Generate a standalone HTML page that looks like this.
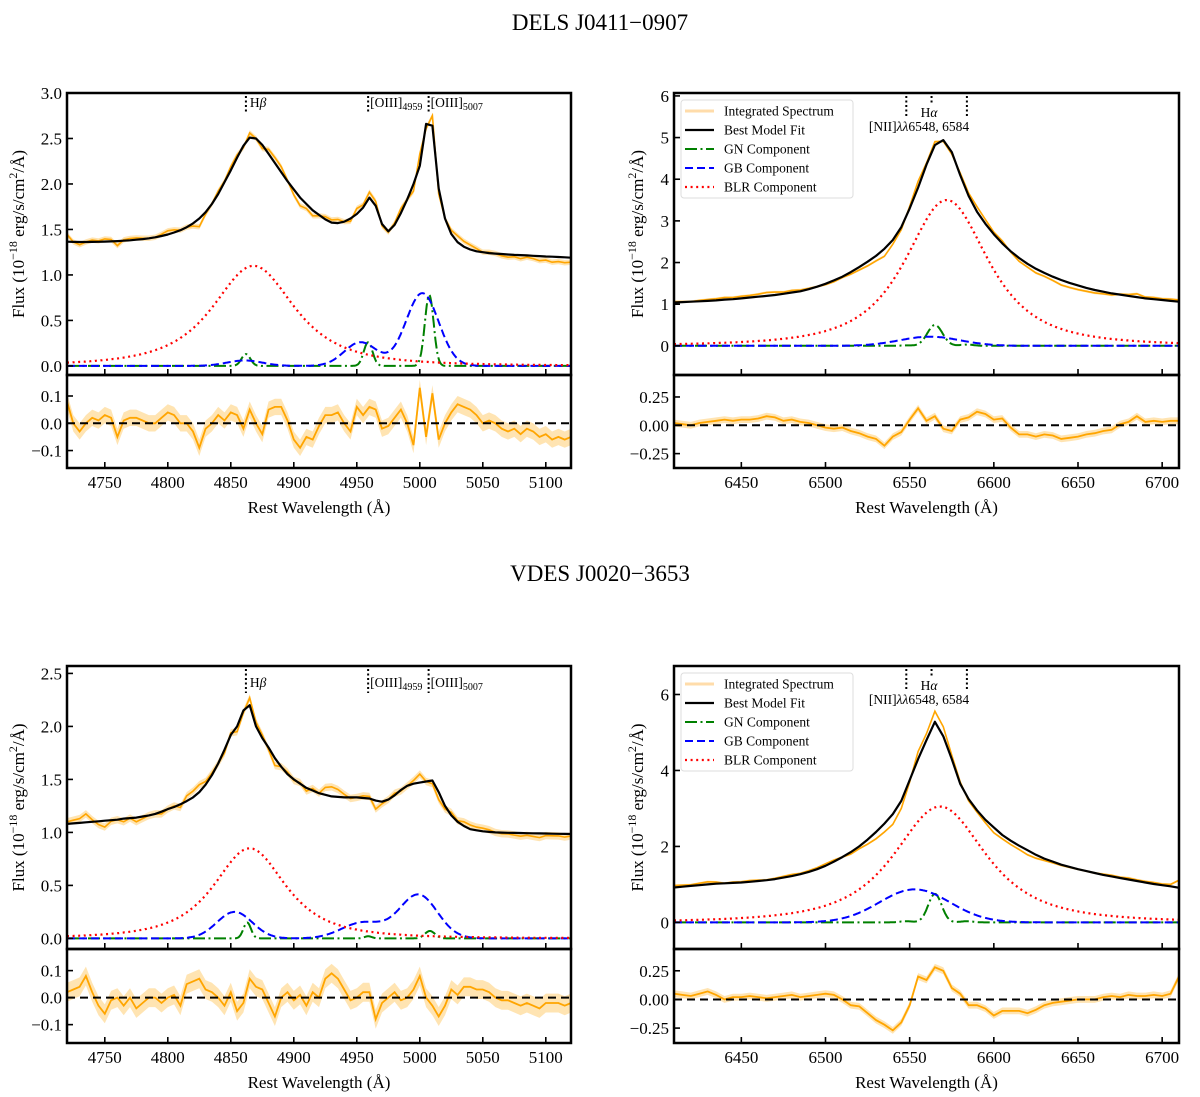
<!DOCTYPE html>
<html><head><meta charset="utf-8"><style>
html,body{margin:0;padding:0;background:#fff;}
svg{display:block;font-family:"Liberation Serif","DejaVu Serif",serif;}
</style></head><body>
<svg id="fig" width="1200" height="1097" viewBox="0 0 1200 1097" xmlns="http://www.w3.org/2000/svg">
<text x="600" y="30" font-size="23" text-anchor="middle">DELS J0411−0907</text>
<text x="600" y="581" font-size="23" text-anchor="middle">VDES J0020−3653</text>
</svg>
<script>
// ---------- DATA ----------
const tlModel = [1.365,1.363,1.362,1.362,1.363,1.364,1.366,1.369,1.372,1.376,
1.381,1.387,1.394,1.403,1.414,1.428,1.445,1.466,1.492,1.525,
1.567,1.62,1.69,1.78,1.89,2.02,2.15,2.29,2.42,2.51,
2.50,2.43,2.33,2.23,2.13,2.03,1.94,1.85,1.78,1.71,
1.66,1.61,1.575,1.57,1.585,1.62,1.67,1.74,1.85,1.76,
1.56,1.48,1.55,1.68,1.83,2.00,2.20,2.66,2.64,1.95,
1.62,1.45,1.36,1.31,1.28,1.26,1.25,1.24,1.235,1.23,
1.225,1.22,1.218,1.215,1.21,1.207,1.203,1.2,1.197,1.194,1.19];
const tlResid = [0.08,0.0,-0.03,0.0,0.02,0.01,0.03,0.02,-0.05,0.01,
0.02,0.02,0.01,0.0,0.0,0.02,0.04,0.03,0.0,0.0,
-0.03,-0.09,-0.02,0.0,0.03,0.01,0.04,0.03,-0.02,0.05,
0.0,-0.04,0.05,0.06,0.06,0.01,-0.06,-0.09,-0.05,-0.06,
-0.01,0.03,0.03,0.04,0.0,-0.03,0.06,0.03,0.06,0.05,
-0.02,-0.01,0.02,0.05,0.0,-0.08,0.13,-0.05,0.11,-0.06,
0.0,0.04,0.07,0.06,0.05,0.03,0.0,0.01,0.0,-0.02,
-0.03,-0.02,-0.04,-0.02,-0.03,-0.05,-0.04,-0.06,-0.05,-0.06,-0.05];
const tlBLR = [1.1, 4868, 50];
const tlGB = [[0.06,4861,14],[0.26,4953,13],[0.8,5002,13]];
const tlGN = [[0.13,4862,3.5],[0.26,4959,3.5],[0.78,5007.5,3.5]];

const trModel = [1.04,1.05,1.06,1.07,1.08,1.09,1.11,1.12,1.14,1.16,
1.18,1.2,1.22,1.25,1.28,1.31,1.36,1.42,1.49,1.57,
1.66,1.77,1.89,2.02,2.16,2.33,2.54,2.85,3.3,3.8,
4.35,4.82,4.94,4.65,4.1,3.6,3.22,2.93,2.68,2.46,
2.27,2.11,1.97,1.85,1.75,1.66,1.58,1.51,1.45,1.39,
1.34,1.3,1.26,1.23,1.2,1.17,1.14,1.12,1.1,1.08,1.06];
const trResid = [0.02,0.01,0.0,0.02,0.03,0.04,0.05,0.04,0.05,0.05,
0.06,0.08,0.07,0.04,0.05,0.03,0.02,0.0,-0.02,-0.03,
-0.02,-0.05,-0.07,-0.1,-0.12,-0.18,-0.1,-0.06,0.05,0.15,
0.04,0.08,-0.03,-0.05,0.05,0.07,0.12,0.1,0.05,0.06,
-0.02,-0.08,-0.08,-0.1,-0.08,-0.09,-0.12,-0.11,-0.1,-0.08,
-0.07,-0.05,-0.04,0.01,0.03,0.08,0.03,0.04,0.03,0.04,0.04];
const trBLR = [3.5, 6572, 38];
const trGB = [[0.22,6562,18]];
const trGN = [[0.01,6548,4],[0.5,6565,4.5],[0.03,6584,4]];

const blModel = [1.08,1.085,1.09,1.095,1.1,1.105,1.11,1.115,1.12,1.13,
1.135,1.14,1.15,1.16,1.175,1.195,1.22,1.24,1.265,1.295,
1.33,1.38,1.45,1.54,1.65,1.78,1.92,2.0,2.15,2.2,
2.0,1.89,1.8,1.7,1.62,1.55,1.5,1.46,1.42,1.395,
1.37,1.355,1.34,1.335,1.33,1.33,1.33,1.325,1.32,1.30,
1.29,1.31,1.35,1.4,1.44,1.46,1.47,1.48,1.49,1.38,
1.25,1.16,1.1,1.06,1.03,1.02,1.01,1.005,1.0,0.998,
0.996,0.995,0.994,0.993,0.992,0.991,0.99,0.988,0.987,0.986,0.985];
const blResid = [0.02,0.03,0.04,0.08,0.02,-0.03,-0.06,-0.01,0.0,-0.03,
0.0,-0.04,-0.02,0.0,0.0,-0.02,0.0,0.01,-0.03,0.05,
0.06,0.07,0.03,0.02,0.0,-0.03,0.02,-0.05,-0.02,0.07,
0.04,0.03,-0.02,-0.07,0.0,0.02,-0.01,0.01,-0.03,0.02,
0.0,0.07,0.09,0.07,0.03,-0.01,0.0,0.02,0.02,-0.08,
-0.02,0.0,0.02,-0.01,0.0,0.03,0.08,0.0,-0.03,-0.07,
-0.03,0.03,0.01,0.04,0.04,0.03,0.03,0.02,0.0,-0.01,
-0.01,-0.02,-0.03,-0.02,-0.03,-0.04,-0.02,-0.02,-0.02,-0.03,-0.02];
const blBLR = [0.85, 4865, 44];
const blGB = [[0.25,4853,14],[0.15,4955,17],[0.41,4999,15]];
const blGN = [[0.15,4863,3],[0.02,4959,3],[0.07,5008,4]];

const brModel = [0.92,0.94,0.96,0.98,1.0,1.02,1.03,1.04,1.05,1.07,
1.09,1.11,1.14,1.18,1.22,1.27,1.33,1.4,1.49,1.6,
1.72,1.85,2.0,2.18,2.38,2.6,2.85,3.2,3.75,4.3,
4.8,5.28,4.9,4.3,3.65,3.25,2.95,2.7,2.5,2.3,
2.15,2.02,1.9,1.78,1.68,1.6,1.52,1.46,1.4,1.35,
1.3,1.25,1.21,1.17,1.13,1.09,1.05,1.01,0.98,0.95,0.91];
const brResid = [0.05,0.04,0.03,0.05,0.07,0.04,0.0,0.02,0.02,0.03,
0.02,0.01,0.02,0.03,0.04,0.02,0.03,0.04,0.05,0.04,
0.0,-0.05,-0.06,-0.12,-0.18,-0.22,-0.27,-0.2,-0.05,0.2,
0.17,0.28,0.25,0.1,0.05,-0.05,-0.05,-0.08,-0.14,-0.1,
-0.1,-0.1,-0.12,-0.09,-0.05,-0.03,-0.02,-0.01,0.0,0.0,
0.0,0.02,0.03,0.02,0.04,0.03,0.03,0.04,0.03,0.05,0.2];
const brBLR = [3.05, 6568, 42];
const brGB = [[0.87,6553,21]];
const brGN = [[0.03,6548,4],[0.75,6565,4],[0.03,6584,4]];

const hbTicks = [4750,4800,4850,4900,4950,5000,5050,5100];
const haTicks = [6450,6500,6550,6600,6650,6700];
const legendLabels = ["Integrated Spectrum","Best Model Fit","GN Component","GB Component","BLR Component"];

// ---------- DRAWING ----------
const NS = "http://www.w3.org/2000/svg";
const svg = document.getElementById("fig");
function mk(tag, attrs, parent){
  const e = document.createElementNS(NS, tag);
  for (const k in attrs) e.setAttribute(k, attrs[k]);
  (parent||svg).appendChild(e);
  return e;
}
let clipId = 0;

function panel(c){
  const g = mk("g", {});
  
  
  const sx = l => c.x0 + (l - c.xmin) / (c.xmax - c.xmin) * (c.x1 - c.x0);
  const sy = v => c.yDiv - (v - c.ymin) / (c.ymax - c.ymin) * (c.yDiv - c.yTop);
  const sr = v => c.yBot - (v - c.rmin) / (c.rmax - c.rmin) * (c.yBot - c.yDiv);
  const lam = i => c.start + i * c.step;
  const defs = mk("defs", {}, g);
  const cm = "c" + (clipId++), cr = "c" + (clipId++);
  const p1 = mk("clipPath", {id: cm}, defs);
  mk("rect", {x: c.x0, y: c.yTop, width: c.x1 - c.x0, height: c.yDiv - c.yTop}, p1);
  const p2 = mk("clipPath", {id: cr}, defs);
  mk("rect", {x: c.x0, y: c.yDiv, width: c.x1 - c.x0, height: c.yBot - c.yDiv}, p2);
  const gm = mk("g", {"clip-path": "url(#" + cm + ")"}, g);
  const gr = mk("g", {"clip-path": "url(#" + cr + ")"}, g);

  const data = c.model.map((m, i) => m + c.resid[i]);
  let up = "", dn = "";
  data.forEach((d, i) => { up += (i ? "L" : "M") + sx(lam(i)).toFixed(1) + "," + sy(d + c.err).toFixed(1); });
  for (let i = data.length - 1; i >= 0; i--) dn += "L" + sx(lam(i)).toFixed(1) + "," + sy(data[i] - c.err).toFixed(1);
  const band = mk("path", {d: up + dn + "Z", fill: "#ffa500", "fill-opacity": "0.3", stroke: "none"}, gm);
  
  
  let dp = "";
  data.forEach((d, i) => { dp += (i ? "L" : "M") + sx(lam(i)).toFixed(1) + "," + sy(d).toFixed(1); });
  const spec = mk("path", {d: dp, fill: "none", stroke: "#ffa500", "stroke-width": 1.6}, gm);
  
  
  const comp = (fn) => { let p = ""; for (let l = c.xmin; l <= c.xmax + 0.01; l += 0.5) p += (l === c.xmin ? "M" : "L") + sx(l).toFixed(1) + "," + sy(fn(l)).toFixed(1); return p; };
  const gauss = arr => l => arr.reduce((s, q) => s + q[0] * Math.exp(-0.5 * Math.pow((l - q[1]) / q[2], 2)), 0);
  const gnp = mk("path", {d: comp(gauss(c.gn)), fill: "none", stroke: "#008000", "stroke-width": 2, "stroke-dasharray": "12 3.5 2 3.5"}, gm);
  
  
  const gbp = mk("path", {d: comp(gauss(c.gb)), fill: "none", stroke: "#0000ff", "stroke-width": 2, "stroke-dasharray": "8 4"}, gm);
  
  
  const blrf = l => c.blr[0] / Math.pow(1 + Math.pow((l - c.blr[1]) / c.blr[2], 2), 1.5);
  const blp = mk("path", {d: comp(blrf), fill: "none", stroke: "#ff0000", "stroke-width": 2.2, "stroke-dasharray": "2 3.6"}, gm);
  
  
  let mp = "";
  c.model.forEach((m, i) => { mp += (i ? "L" : "M") + sx(lam(i)).toFixed(1) + "," + sy(m).toFixed(1); });
  const mod = mk("path", {d: mp, fill: "none", stroke: "#000", "stroke-width": 2.2, "stroke-linejoin": "round"}, gm);
  
  

  up = ""; dn = "";
  c.resid.forEach((r, i) => { up += (i ? "L" : "M") + sx(lam(i)).toFixed(1) + "," + sr(r + c.err).toFixed(1); });
  for (let i = c.resid.length - 1; i >= 0; i--) dn += "L" + sx(lam(i)).toFixed(1) + "," + sr(c.resid[i] - c.err).toFixed(1);
  const rb = mk("path", {d: up + dn + "Z", fill: "#ffa500", "fill-opacity": "0.3"}, gr);
  
  
  let rp = "";
  c.resid.forEach((r, i) => { rp += (i ? "L" : "M") + sx(lam(i)).toFixed(1) + "," + sr(r).toFixed(1); });
  const rl = mk("path", {d: rp, fill: "none", stroke: "#ffa500", "stroke-width": 1.8}, gr);
  
  
  const zl = mk("line", {x1: c.x0, x2: c.x1, y1: sr(0), y2: sr(0), stroke: "#000", "stroke-width": 2, "stroke-dasharray": "8 5"}, gr);
  
  

  const f1 = mk("rect", {x: c.x0, y: c.yTop, width: c.x1 - c.x0, height: c.yDiv - c.yTop, fill: "none", stroke: "#000", "stroke-width": 2.5}, g);
  
  
  const f2 = mk("rect", {x: c.x0, y: c.yDiv, width: c.x1 - c.x0, height: c.yBot - c.yDiv, fill: "none", stroke: "#000", "stroke-width": 2.5}, g);
  
  

  c.xticks.forEach(t => {
    const x = sx(t);
    mk("line", {x1: x, x2: x, y1: c.yDiv, y2: c.yDiv - 6, stroke: "#000", "stroke-width": 1.6}, g);
    mk("line", {x1: x, x2: x, y1: c.yBot, y2: c.yBot - 6, stroke: "#000", "stroke-width": 1.6}, g);
    const tl = mk("text", {x: x, y: c.yBot + 20, "font-size": 17, "text-anchor": "middle"}, g);
    tl.textContent = t;
    
    
  });
  c.yticks.forEach((t, i) => {
    const y = sy(t);
    mk("line", {x1: c.x0, x2: c.x0 + 6, y1: y, y2: y, stroke: "#000", "stroke-width": 1.6}, g);
    const tl = mk("text", {x: c.x0 - 5, y: y + 6, "font-size": 17, "text-anchor": "end"}, g);
    tl.textContent = c.ylabels[i];
    
    
  });
  c.rticks.forEach((t, i) => {
    const y = sr(t);
    mk("line", {x1: c.x0, x2: c.x0 + 6, y1: y, y2: y, stroke: "#000", "stroke-width": 1.6}, g);
    const tl = mk("text", {x: c.x0 - 5, y: y + 6, "font-size": 17, "text-anchor": "end"}, g);
    tl.textContent = c.rlabels[i];
    
    
  });
  const xl = mk("text", {x: (c.x0 + c.x1) / 2, y: c.yBot + 45, "font-size": 17, "text-anchor": "middle"}, g);
  xl.textContent = "Rest Wavelength (Å)";
  
  
  const yc = (c.yTop + c.yDiv) / 2;
  const yl = mk("text", {x: 0, y: 0, "font-size": 17, "text-anchor": "middle", transform: "translate(" + c.ylx + "," + yc + ") rotate(-90)"}, g);
  yl.innerHTML = 'Flux (10<tspan font-size="12" dy="-7">−18</tspan><tspan dy="7"> erg/s/cm</tspan><tspan font-size="12" dy="-7">2</tspan><tspan dy="7">/Å)</tspan>';
  
  

  c.markers.forEach(m => {
    const x = sx(m[0]);
    const ml = mk("line", {x1: x, x2: x, y1: c.yTop + 3, y2: c.yTop + m[1], stroke: "#000", "stroke-width": 2, "stroke-dasharray": "2 2.5"}, g);
    
    
  });
  c.labels.forEach(L => {
    const t = mk("text", {x: L[0], y: c.yTop + L[1], "font-size": 13.5, "text-anchor": L[3]}, g);
    t.innerHTML = L[2];
    
    
  });

  if (c.legend) {
    const lg = mk("g", {}, g);
    
    
    mk("rect", {x: c.x0 + 7, y: c.yTop + 7, width: 172, height: 98, rx: 3, fill: "#fff", "fill-opacity": 0.85, stroke: "#ddd", "stroke-width": 1}, lg);
    const styles = [
      {stroke: "#ffdcaa", "stroke-width": 3},
      {stroke: "#000", "stroke-width": 2.2},
      {stroke: "#008000", "stroke-width": 2, "stroke-dasharray": "12 3.5 2 3.5"},
      {stroke: "#0000ff", "stroke-width": 2, "stroke-dasharray": "8 4"},
      {stroke: "#ff0000", "stroke-width": 2.2, "stroke-dasharray": "2 3.6"}];
    legendLabels.forEach((lab, i) => {
      const y = c.yTop + 18 + i * 19;
      const ent = mk("g", {}, lg);
      
      
      const a = Object.assign({x1: c.x0 + 11, x2: c.x0 + 40, y1: y, y2: y}, styles[i]);
      mk("line", a, ent);
      const t = mk("text", {x: c.x0 + 50, y: y + 4.5, "font-size": 13.5}, ent);
      t.textContent = lab;
    });
  }
}

const sub = s => '<tspan font-size="10" dy="3">' + s + '</tspan><tspan dy="-3"></tspan>';
const hbLabels = (x0, xmin, k) => [
  [x0 + (4862 - xmin) * k + 4, 14, 'H<tspan font-style="italic">β</tspan>', "start"],
  [x0 + (4959 - xmin) * k + 2, 14, '[OIII]' + sub('4959'), "start"],
  [x0 + (5007 - xmin) * k + 2, 14, '[OIII]' + sub('5007'), "start"]];
const haLabels = [
  [929, 24, 'H<tspan font-style="italic">α</tspan>', "middle"],
  [919, 38, '[NII]<tspan font-style="italic">λλ</tspan>6548, 6584', "middle"]];

panel({name: "panel-hbeta-dels", x0: 67, x1: 571, yTop: 93, yDiv: 375, yBot: 468, xmin: 4720, xmax: 5120,
  ymin: -0.1, ymax: 3.0, rmin: -0.164, rmax: 0.177, start: 4720, step: 5,
  model: tlModel, resid: tlResid, err: 0.03, blr: tlBLR, gb: tlGB, gn: tlGN,
  xticks: hbTicks, yticks: [0, 0.5, 1, 1.5, 2, 2.5, 3], ylabels: ["0.0","0.5","1.0","1.5","2.0","2.5","3.0"],
  rticks: [-0.1, 0, 0.1], rlabels: ["−0.1","0.0","0.1"], ylx: 24,
  markers: [[4862, 19], [4959, 19], [5007, 19]], labels: hbLabels(67, 4720, 1.26), legend: false});
panel({name: "panel-halpha-dels", x0: 674, x1: 1179, yTop: 93, yDiv: 375, yBot: 468, xmin: 6410, xmax: 6710,
  ymin: -0.7, ymax: 6.07, rmin: -0.377, rmax: 0.444, start: 6410, step: 5,
  model: trModel, resid: trResid, err: 0.03, blr: trBLR, gb: trGB, gn: trGN,
  xticks: haTicks, yticks: [0,1,2,3,4,5,6], ylabels: ["0","1","2","3","4","5","6"],
  rticks: [-0.25, 0, 0.25], rlabels: ["−0.25","0.00","0.25"], ylx: 643,
  markers: [[6548, 24], [6563, 12], [6584, 24]], labels: haLabels, legend: true});
panel({name: "panel-hbeta-vdes", x0: 67, x1: 571, yTop: 666, yDiv: 949, yBot: 1043, xmin: 4720, xmax: 5120,
  ymin: -0.1, ymax: 2.57, rmin: -0.168, rmax: 0.18, start: 4720, step: 5,
  model: blModel, resid: blResid, err: 0.035, blr: blBLR, gb: blGB, gn: blGN,
  xticks: hbTicks, yticks: [0, 0.5, 1, 1.5, 2, 2.5], ylabels: ["0.0","0.5","1.0","1.5","2.0","2.5"],
  rticks: [-0.1, 0, 0.1], rlabels: ["−0.1","0.0","0.1"], ylx: 24,
  markers: [[4862, 27], [4959, 27], [5007, 27]], labels: hbLabels(67, 4720, 1.26).map(l => [l[0], 21, l[2], l[3]]), legend: false});
panel({name: "panel-halpha-vdes", x0: 674, x1: 1179, yTop: 666, yDiv: 949, yBot: 1043, xmin: 6410, xmax: 6710,
  ymin: -0.7, ymax: 6.75, rmin: -0.38, rmax: 0.44, start: 6410, step: 5,
  model: brModel, resid: brResid, err: 0.03, blr: brBLR, gb: brGB, gn: brGN,
  xticks: haTicks, yticks: [0,2,4,6], ylabels: ["0","2","4","6"],
  rticks: [-0.25, 0, 0.25], rlabels: ["−0.25","0.00","0.25"], ylx: 643,
  markers: [[6548, 23], [6563, 11], [6584, 23]], labels: haLabels, legend: true});
</script>
</body></html>
